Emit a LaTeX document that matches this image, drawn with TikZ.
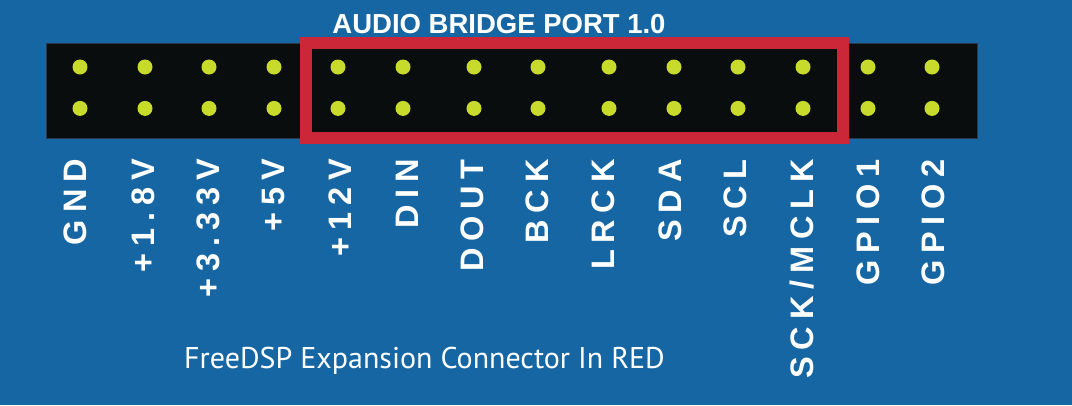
\documentclass[tikz,border=0pt]{standalone}
\usepackage{fontspec}
\setmainfont{Liberation Sans}
\newfontfamily\pinfont[LetterSpace=21]{Liberation Sans Bold}
\newfontfamily\notefont{PT Sans}
\usetikzlibrary{positioning}

\definecolor{boardblue}{HTML}{1666A3}
\definecolor{headerblack}{HTML}{0A0D0E}
\definecolor{headeredge}{HTML}{2B3A48}
\definecolor{portred}{HTML}{CC2739}
\definecolor{padyellow}{HTML}{C8DB2C}

\begin{document}
\begin{tikzpicture}[x=1pt,y=-1pt,
    header/.style={fill=headerblack,draw=headeredge,line width=1pt,inner sep=0pt,minimum width=931pt,minimum height=95pt},
    portbox/.style={draw=portred,line width=12pt,inner sep=0pt,minimum width=537pt,minimum height=95pt},
    pad/.style={circle,fill=padyellow,inner sep=0pt,minimum size=15pt},
    pinlabel/.style={text=white,font=\pinfont\fontsize{32.5}{33}\selectfont,rotate=90,anchor=east,inner sep=0pt,text height=23pt,text depth=0pt},
    title/.style={text=white,font=\bfseries\fontsize{27.5}{28}\selectfont,inner sep=0pt},
    note/.style={text=white,font=\notefont\fontsize{30}{30}\selectfont,inner sep=0pt,anchor=base}]
    \useasboundingbox[fill=boardblue] (0,0) rectangle (1072,405);
    \node[header]  (hdr) at (511.5,90.5) {};
    \node[portbox] (abp) at (574.5,90.5) {};
    \node[title]   (abptitle) at (499,24.5) {AUDIO BRIDGE PORT 1.0};
    \foreach \px [count=\i] in {80,145,209,274,338,403,474,538,609,674,738,803,868,932} {
        \node[pad]                    (t\i) at (\px,67) {};
        \node[pad, below=26pt of t\i] (b\i)            {};
    }
    \foreach \lx/\txt [count=\i] in {75/GND,143/+1.8V,208/+3.33V,273/+5V,340/+12V,407/DIN,472/DOUT,
                                     537/BCK,603/LRCK,670/SDA,735/SCL,802/{SCK/MCLK},868/GPIO1,933/GPIO2}
        \node[pinlabel] (l\i) at (\lx,159) {\txt};
    \node[note] (fdsp) at (424.5,368) {FreeDSP Expansion Connector In RED};
\end{tikzpicture}
\end{document}
